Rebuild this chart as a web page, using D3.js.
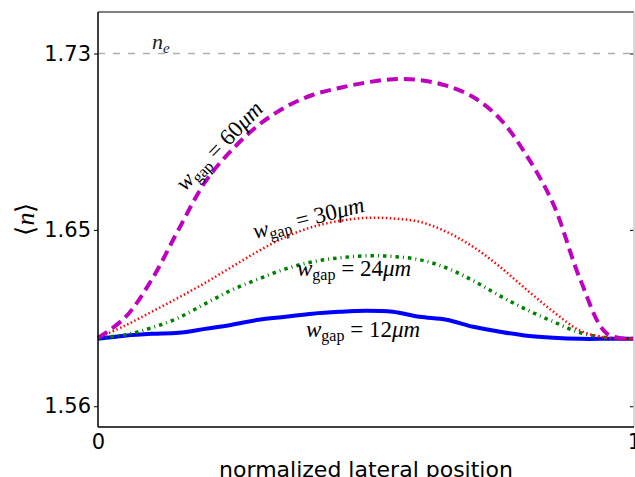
<!DOCTYPE html>
<html>
<head>
<meta charset="utf-8">
<script src="https://cdn.jsdelivr.net/npm/d3@7"></script>
<style>
  body { margin: 0; background: #fff; }
  svg { display: block; }
</style>
</head>
<body>
<div id="chart-area"></div>
<script>
// normalized lateral position samples
var positions = [0, 0.05, 0.1, 0.15, 0.2, 0.25, 0.3, 0.35, 0.4, 0.45, 0.5,
                 0.55, 0.6, 0.65, 0.7, 0.75, 0.8, 0.85, 0.9, 0.95, 1];

var gap12 = [1.5925, 1.5940, 1.5949, 1.5954, 1.5973, 1.5993, 1.6017, 1.6031, 1.6046, 1.6055, 1.6060,
             1.6055, 1.6031, 1.6017, 1.5983, 1.5959, 1.5940, 1.5930, 1.5925, 1.5925, 1.5925];
var gap24 = [1.5930, 1.5944, 1.5978, 1.6026, 1.6094, 1.6161, 1.6214, 1.6262, 1.6296, 1.6315, 1.6325,
             1.6322, 1.6306, 1.6267, 1.6205, 1.6132, 1.6065, 1.6007, 1.5954, 1.5930, 1.5925];
var gap30 = [1.5930, 1.5988, 1.6055, 1.6123, 1.6195, 1.6272, 1.6349, 1.6416, 1.6464, 1.6493, 1.6508,
             1.6505, 1.6489, 1.6441, 1.6368, 1.6272, 1.6161, 1.6055, 1.5964, 1.5930, 1.5925];
var gap60 = [1.5930, 1.6026, 1.6209, 1.6450, 1.6681, 1.6836, 1.6956, 1.7042, 1.7100, 1.7134, 1.7160,
             1.7176, 1.7172, 1.7145, 1.7090, 1.6985, 1.6807, 1.6571, 1.6209, 1.5949, 1.5925];

var nE = 1.73;

var yTickValues = [1.56, 1.645, 1.73];
var yTickLabels = ["1.56", "1.65", "1.73"];
var xTickValues = [0, 1];
var xTickLabels = ["0", "1"];

var margin = {top: 12, right: 1, bottom: 50, left: 98};
var width = 635 - margin.left - margin.right,
    height = 477 - margin.top - margin.bottom;

var x = d3.scaleLinear().domain([0, 1]).range([0, width]);
var y = d3.scaleLinear().domain([1.55, 1.75]).range([height, 0]);

var svg = d3.select("#chart-area")
    .append("svg")
    .attr("width", 635)
    .attr("height", 477);

var g = svg.append("g")
    .attr("transform", "translate(" + margin.left + "," + margin.top + ")");

// n_e reference line
g.append("line")
    .attr("x1", 0).attr("x2", width)
    .attr("y1", y(nE)).attr("y2", y(nE))
    .attr("stroke", "#b0b0b0")
    .attr("stroke-width", 1.5)
    .attr("stroke-dasharray", "7,8");

var ne = g.append("text")
    .attr("x", 54)
    .attr("y", y(nE) - 5)
    .attr("font-family", "Liberation Serif")
    .attr("font-size", "22px")
    .attr("fill", "#222");
ne.append("tspan").attr("font-style", "italic").text("n");
ne.append("tspan").attr("font-style", "italic").attr("font-size", "15px").attr("dy", 4).text("e");

var line = d3.line()
    .x(function(d, i) { return x(positions[i]); })
    .y(function(d) { return y(d); })
    .curve(d3.curveCatmullRom);

var series = [
  {values: gap12, color: "#0000ff", w: 4, dash: null},
  {values: gap24, color: "#008000", w: 3.5, dash: "3.5,4,1,4"},
  {values: gap30, color: "#ff0000", w: 2.5, dash: "1.5,2.5"},
  {values: gap60, color: "#bf00bf", w: 4, dash: "11,6"}
];

g.selectAll(".series")
    .data(series)
    .enter()
    .append("path")
      .attr("class", "series")
      .attr("d", function(d) { return line(d.values); })
      .attr("fill", "none")
      .attr("stroke", function(d) { return d.color; })
      .attr("stroke-width", function(d) { return d.w; })
      .attr("stroke-dasharray", function(d) { return d.dash; });

// axes
var yAxisCall = d3.axisLeft(y)
    .tickValues(yTickValues)
    .tickSize(4)
    .tickPadding(3)
    .tickFormat(function(d, i) { return yTickLabels[i]; });

var yAxisGroup = g.append("g").call(yAxisCall);
yAxisGroup.select(".domain").remove();
yAxisGroup.selectAll("text")
    .attr("font-family", "DejaVu Sans")
    .attr("font-size", "21px")
    .attr("fill", "#000");

var yRight = g.append("g")
    .attr("transform", "translate(" + width + ",0)")
    .call(d3.axisLeft(y).tickValues(yTickValues).tickSize(4).tickFormat(""));
yRight.select(".domain").remove();

var xAxisCall = d3.axisBottom(x)
    .tickValues(xTickValues)
    .tickSize(0)
    .tickPadding(7)
    .tickFormat(function(d, i) { return xTickLabels[i]; });

var xAxisGroup = g.append("g")
    .attr("transform", "translate(0," + height + ")")
    .call(xAxisCall);
xAxisGroup.select(".domain").remove();
xAxisGroup.selectAll("text")
    .attr("font-family", "DejaVu Sans")
    .attr("font-size", "21px")
    .attr("fill", "#000");

// frame
g.append("line").attr("x1", 0).attr("x2", width).attr("y1", 0).attr("y2", 0)
    .attr("stroke", "#555").attr("stroke-width", 1.5);
g.append("line").attr("x1", width).attr("x2", width).attr("y1", 0).attr("y2", height)
    .attr("stroke", "#ccc").attr("stroke-width", 1.5);
g.append("line").attr("x1", 0).attr("x2", 0).attr("y1", 0).attr("y2", height)
    .attr("stroke", "#000").attr("stroke-width", 1.5);
g.append("line").attr("x1", 0).attr("x2", width).attr("y1", height).attr("y2", height)
    .attr("stroke", "#000").attr("stroke-width", 1.5);

// axis labels
g.append("text")
    .attr("x", width / 2)
    .attr("y", height + 50)
    .attr("text-anchor", "middle")
    .attr("font-family", "DejaVu Sans")
    .attr("font-size", "22px")
    .text("normalized lateral position");

var yLab = svg.append("text")
    .attr("transform", "translate(34,219) rotate(-90)")
    .attr("text-anchor", "middle")
    .attr("font-family", "Liberation Serif")
    .attr("font-size", "26px");
yLab.append("tspan").text("\u27E8");
yLab.append("tspan").attr("font-style", "italic").text("n");
yLab.append("tspan").text("\u27E9");

// curve labels
var curveLabels = [
  {num: "60", px: 185, py: 192, angle: -46},
  {num: "30", px: 255, py: 239, angle: -14},
  {num: "24", px: 297, py: 276, angle: 0},
  {num: "12", px: 306, py: 337, angle: 0}
];

curveLabels.forEach(function(d) {
  var t = svg.append("text")
      .attr("transform", "translate(" + d.px + "," + d.py + ") rotate(" + d.angle + ")")
      .attr("font-family", "Liberation Serif")
      .attr("font-size", "23px")
      .attr("fill", "#000");
  t.append("tspan").attr("font-style", "italic").text("w");
  t.append("tspan").attr("font-size", "16px").attr("dy", 4).text("gap");
  t.append("tspan").attr("dy", -4).text(" = " + d.num);
  t.append("tspan").attr("font-style", "italic").text("\u03BCm");
});
</script>
</body>
</html>
